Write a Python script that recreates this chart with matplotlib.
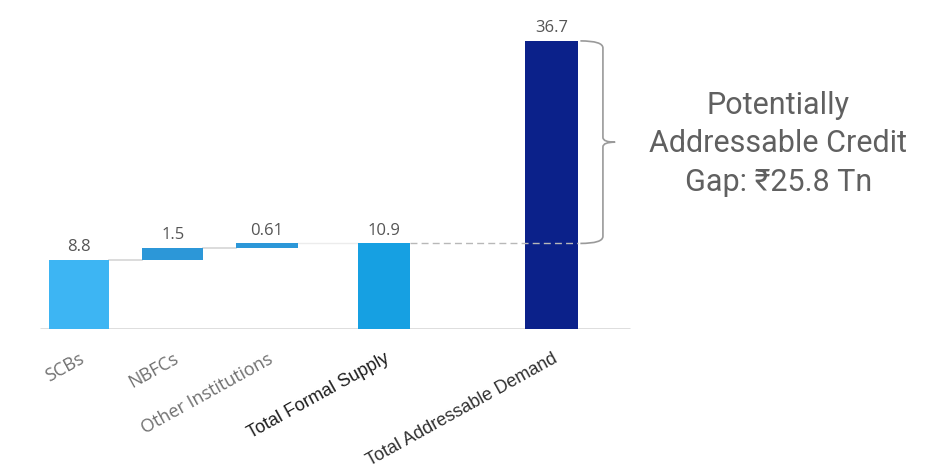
import matplotlib
matplotlib.use("Agg")
import matplotlib.pyplot as plt
from matplotlib.path import Path
from matplotlib.patches import PathPatch

# credit supply vs demand (Rs. trillion)
categories = ["SCBs", "NBFCs", "Other Institutions", "Total Formal Supply", "Total Addressable Demand"]
values = [8.8, 1.5, 0.61, 10.9, 36.7]
value_labels = ["8.8", "1.5", "0.61", "10.9", "36.7"]
is_total = [False, False, False, True, True]
gap_text = "Potentially\nAddressable Credit\nGap: \u20b925.8 Tn"

# layout
xpos = [0, 1, 2, 3.245, 5.03]
widths = [0.64, 0.65, 0.66, 0.56, 0.57]
colors = ["#3db5f3", "#2c97d8", "#2c97d8", "#16a0e2", "#0b218a"]
label_colors = ["#707070", "#707070", "#707070", "#1e1e1e", "#303030"]
label_fonts = ["Open Sans", "Open Sans", "Open Sans", "Liberation Sans", "Liberation Sans"]

fig = plt.figure(figsize=(9.38, 4.73), dpi=100)
ax = fig.add_axes([0, 144 / 473, 1, 329 / 473])
ax.set_xlim(-0.84, 9.14)
ax.set_ylim(0, 329 / 7.85)
for s in ax.spines.values():
    s.set_visible(False)
ax.set_yticks([])

# waterfall bottoms
bottoms = []
running = 0.0
for v, tot in zip(values, is_total):
    if tot:
        bottoms.append(0.0)
    else:
        bottoms.append(running)
        running += v

ax.bar(xpos, values, width=widths, bottom=bottoms, color=colors, zorder=3)

# baseline
ax.plot([-0.41, 5.86], [0, 0], color="#dadada", lw=2, zorder=2, solid_capstyle="butt")

# connectors between the stacked pieces
for i in range(2):
    top = bottoms[i] + values[i]
    ax.plot([xpos[i] + widths[i] / 2, xpos[i + 1] - widths[i + 1] / 2], [top, top],
            color="#d6d6d6", lw=1.2, zorder=2)
ax.plot([xpos[2] + widths[2] / 2, xpos[3] - widths[3] / 2], [values[3], values[3]],
        color="#ececec", lw=1.0, zorder=2)

# dashed line from supply level across to demand bar
ax.plot([xpos[3] + widths[3] / 2, xpos[4] + widths[4] / 2], [values[3], values[3]],
        color="#b8b8b8", lw=1.0, ls=(0, (5, 3)), zorder=4)

# value labels
for x, b, v, lab in zip(xpos, bottoms, values, value_labels):
    ax.text(x, b + v + 0.6, lab, ha="center", va="bottom", fontsize=12,
            color="#555555", family=["Open Sans", "DejaVu Sans"])

# curly brace for the gap
lo, hi = values[3], values[4]
mid = (lo + hi) / 2
x0 = xpos[4] + widths[4] / 2 + 0.02
xs = x0 + 0.24
xt = xs + 0.13
r = 0.9
verts = [
    (x0, hi), (xs, hi), (xs, hi - r),
    (xs, mid + 0.6), (xs, mid), (xt, mid),
    (xs, mid), (xs, mid - 0.6),
    (xs, lo + r), (xs, lo), (x0, lo),
]
codes = [Path.MOVETO, Path.CURVE3, Path.CURVE3,
         Path.LINETO, Path.CURVE3, Path.CURVE3,
         Path.CURVE3, Path.CURVE3,
         Path.LINETO, Path.CURVE3, Path.CURVE3]
ax.add_patch(PathPatch(Path(verts, codes), fill=False, edgecolor="#9a9a9a", lw=1.2, zorder=4))

ax.text(7.44, mid - 0.2, gap_text, ha="center", va="center", fontsize=22,
        color="#606060", linespacing=1.42,
        family=["Roboto", "DejaVu Sans"])

# category labels
ax.set_xticks(xpos)
ax.set_xticklabels(categories)
ax.tick_params(axis="x", length=0, pad=15)
for t, c, f in zip(ax.get_xticklabels(), label_colors, label_fonts):
    t.set_rotation(29)
    t.set_ha("right")
    t.set_va("top")
    t.set_rotation_mode("anchor")
    t.set_color(c)
    t.set_family([f, "DejaVu Sans"])
    t.set_fontsize(13)

fig.savefig("out.png", dpi=100)
